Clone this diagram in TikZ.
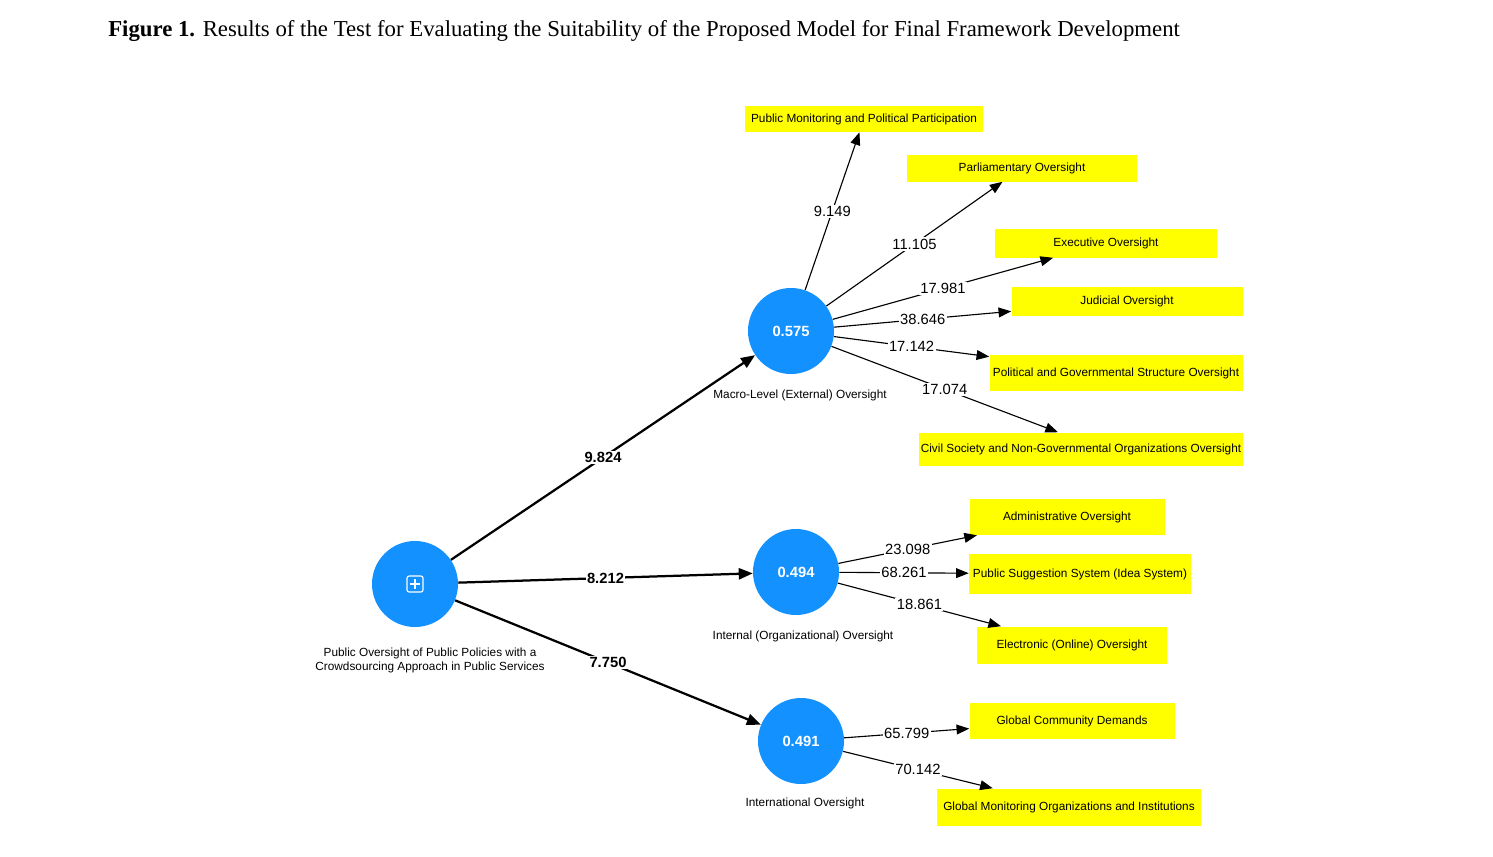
\documentclass[tikz,border=0pt]{standalone}
\usepackage{fontspec}
\setmainfont{Liberation Serif}
\setsansfont{Liberation Sans}
\usetikzlibrary{arrows.meta,positioning}
\definecolor{nodeblue}{RGB}{18,145,255}
\definecolor{boxyellow}{RGB}{255,255,0}
\def\px{0.025cm}

\begin{document}
\begin{tikzpicture}
		[x=\px,y=-\px,
		main node/.style={circle,fill=nodeblue,draw=none,minimum size=86*\px,inner sep=0pt,text=white,font=\sffamily\bfseries\fontsize{10.5}{12}\selectfont},
		ybox/.style={fill=boxyellow,draw=none,inner sep=0pt,font=\sffamily\fontsize{8.4}{10}\selectfont},
		capnode/.style={font=\sffamily\fontsize{8.4}{10}\selectfont,align=center},
		link/.style={line width=.8pt,-{Triangle[length=9pt,width=7pt]}},
		mlink/.style={line width=1.6pt,-{Triangle[length=10pt,width=8pt]}},
		wt/.style={fill=white,inner sep=1pt,font=\sffamily\fontsize{10.5}{12}\selectfont},
		mwt/.style={wt,font=\sffamily\bfseries\fontsize{10.5}{12}\selectfont}]
		\useasboundingbox (0,0) rectangle (1493,856);
		
		\node[anchor=base west,inner sep=0pt,font=\fontsize{16.2}{19}\selectfont] (title) at (108,36)
		{\textbf{Figure 1.} Results of the Test for Evaluating the Suitability of the Proposed Model for Final Framework Development};
		
		\node[main node] (root) at (415,584) {};
		\node[main node] (macro) at (791,331) {0.575};
		\node[main node] (internal) at (796,572) {0.494};
		\node[main node] (intl) at (801,741) {0.491};
		
		\draw[white,line width=.8pt,rounded corners=1.5pt] (407,576) rectangle (423,592);
		\draw[white,line width=.8pt] (410,584) -- (420,584) (415,579) -- (415,589);
		
		\node[capnode] (rootcap) at (430,660) {Public Oversight of Public Policies with a\\Crowdsourcing Approach in Public Services};
		\node[capnode] (macrocap) at (800,395) {Macro-Level (External) Oversight};
		\node[capnode] (internalcap) at (803,636) {Internal (Organizational) Oversight};
		\node[capnode] (intlcap) at (805,803) {International Oversight};
		
		\node[ybox,minimum width=238*\px,minimum height=26*\px] (pm) at (864,119) {Public Monitoring and Political Participation};
		\node[ybox,minimum width=230*\px,minimum height=27*\px] (parl) at (1022,168) {Parliamentary Oversight};
		\node[ybox,minimum width=222*\px,minimum height=29*\px] (exec) at (1106,243) {Executive Oversight};
		\node[ybox,minimum width=231*\px,minimum height=29*\px] (jud) at (1127,301) {Judicial Oversight};
		\node[ybox,minimum width=253*\px,minimum height=36*\px] (pol) at (1116,373) {Political and Governmental Structure Oversight};
		\node[ybox,minimum width=324*\px,minimum height=33*\px] (cso) at (1081,449) {Civil Society and Non-Governmental Organizations Oversight};
		\node[ybox,minimum width=195*\px,minimum height=36*\px] (adm) at (1067,517) {Administrative Oversight};
		\node[ybox,minimum width=222*\px,minimum height=40*\px] (sug) at (1080,574) {Public Suggestion System (Idea System)};
		\node[ybox,minimum width=190*\px,minimum height=37*\px] (elec) at (1072,645) {Electronic (Online) Oversight};
		\node[ybox,minimum width=205*\px,minimum height=36*\px] (gcd) at (1072,721) {Global Community Demands};
		\node[ybox,minimum width=264*\px,minimum height=37*\px] (gmo) at (1069,807) {Global Monitoring Organizations and Institutions};
		
		\draw[mlink] (root) to node[mwt] {9.824} (macro);
		\draw[mlink] (root) to node[mwt] {8.212} (internal);
		\draw[mlink] (root) to node[mwt] {7.750} (intl);
		
		\draw[link] (macro) to node[wt] {9.149} (pm);
		\draw[link] (macro) to node[wt] {11.105} (parl);
		\draw[link] (macro) to node[wt] {17.981} (exec);
		\draw[link] (macro) to node[wt] {38.646} (jud);
		\draw[link] (macro) to node[wt] {17.142} (pol);
		\draw[link] (macro) to node[wt] {17.074} ([xshift=-23*\px]cso.north);
		
		\draw[link] (internal) to node[wt] {23.098} (adm);
		\draw[link] (internal) to node[wt] {68.261} (sug);
		\draw[link] (internal) to node[wt] {18.861} (elec);
		
		\draw[link] (intl) to node[wt] {65.799} (gcd);
		\draw[link] (intl) to node[wt] {70.142} (gmo);
		\end{tikzpicture}
\end{document}
